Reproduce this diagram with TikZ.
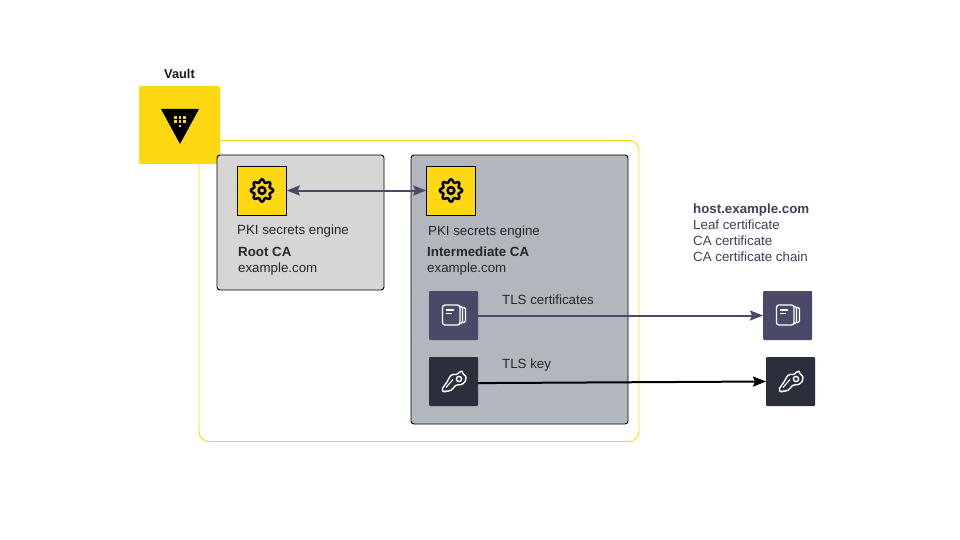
\documentclass[tikz,border=0pt]{standalone}
\usepackage{fontspec}
\setmainfont{Liberation Sans}
\usetikzlibrary{arrows.meta}
\definecolor{vaultyellow}{HTML}{FFD814}
\definecolor{certblue}{HTML}{4A4A68}
\definecolor{keydark}{HTML}{2C2F3B}
\definecolor{rootgray}{HTML}{D6D6D6}
\definecolor{intergray}{HTML}{B2B6BD}
\definecolor{hosttext}{HTML}{3F3F5C}
\tikzset{
  x=1pt,y=-1pt,
  lbl/.style={anchor=base west,inner sep=0pt,font=\fontsize{13.3}{15}\selectfont,text=black!85},
  lblb/.style={lbl,font=\fontsize{13.3}{15}\selectfont\bfseries},
  hostlbl/.style={lbl,text=hosttext},
  panel/.style={draw=black,line width=0.9pt,rounded corners=3pt,inner sep=0pt,outer sep=0pt,anchor=north west},
  enginebox/.style={draw=black,line width=0.7pt,fill=vaultyellow,minimum width=49.5pt,minimum height=49pt,inner sep=0pt,outer sep=0pt},
  iconbox/.style={rounded corners=1pt,minimum width=49pt,minimum height=49pt,inner sep=0pt,outer sep=0pt},
  certbox/.style={iconbox,fill=certblue},
  keybox/.style={iconbox,fill=keydark},
  conn/.style={line width=2pt,draw=certblue,-{Stealth[length=13pt,width=10pt,inset=2pt]}},
  keyconn/.style={line width=2pt,draw=black,-{Stealth[length=13pt,width=10pt,inset=2pt]}},
  pics/gear/.style={code={
    \draw[line width=2.5pt,black,line join=round] plot[domain=0:357,samples=120,smooth cycle] ({(9.7+1.5*cos(8*\x))*cos(\x)},{(9.7+1.5*cos(8*\x))*sin(\x)});
    \draw[line width=2.5pt,black] (0,0) circle[radius=3.4];
  }},
  pics/certicon/.style={code={
    \draw[white,line width=1.3pt,rounded corners=2.5pt] (-11,-10.5) rectangle (6.5,9.5);
    \draw[white,line width=1.3pt,rounded corners=1.5pt] (6.5,-9) -- (9,-9) -- (9,8) -- (6.5,8);
    \draw[white,line width=1.3pt,rounded corners=1.5pt] (9,-8) -- (12,-8) -- (12,7) -- (9,7);
    \draw[white,line width=1.4pt] (-8,-5.5) -- (0,-5.5) (-8,-2.2) -- (-2,-2.2);
  }},
  pics/keyicon/.style={code={
    \draw[white,line width=1.4pt,line join=round,rounded corners=1.5pt]
      (-11.8,8) -- (-5.5,-1) .. controls (-4,-5) and (-2,-7.2) .. (1,-7)
      .. controls (3,-7) and (5,-8) .. (7,-10.5) -- (9.8,-10.2)
      -- (8.5,-7.5) .. controls (11,-7) and (12.5,-5) .. (12.2,-3)
      .. controls (12,1) and (8,4) .. (3,3) -- (-3.5,10) -- (-5.5,8.5) -- (-7,10.8) -- (-8.8,9) -- (-10.2,10.8) -- cycle;
    \draw[white,line width=1.4pt] (5.5,-2.5) circle[radius=2.6];
    \draw[white,line width=1.1pt] (-7.5,6) -- (-0.5,-2);
  }},
}
\begin{document}
\begin{tikzpicture}
\useasboundingbox (0,0) rectangle (960,540);
\fill[white] (0,0) rectangle (960,540);
% outer frame
\node[draw=vaultyellow,line width=0.9pt,rounded corners=10pt,anchor=north west,minimum width=440pt,minimum height=301pt,inner sep=0pt,outer sep=0pt] (frame) at (199,140.5) {};
% vault
\node[fill=vaultyellow,rounded corners=1.5pt,minimum width=81pt,minimum height=78pt,inner sep=0pt] (vault) at (179.5,125) {};
\fill[black,rounded corners=0.5pt] (161,109) -- (199,109) -- (180,144) -- cycle;
\foreach \px/\py in {175.7/117.3,180/117.3,184.3/117.3,175.7/121.7,180/121.7,184.3/121.7,180/126}
  \fill[vaultyellow] (\px-1.45,\py-1.45) rectangle (\px+1.45,\py+1.45);
\node[lblb,anchor=base,text=black!90,font=\fontsize{12.8}{15}\selectfont\bfseries] (vaultlbl) at (179.5,79) {Vault};
% panels
\node[panel,fill=rootgray,minimum width=167pt,minimum height=135pt] (root) at (217,155) {};
\node[panel,fill=intergray,minimum width=217pt,minimum height=269pt] (inter) at (411,155) {};
% engines
\node[enginebox] (eng1) at (262,190.5) {};
\node[enginebox] (eng2) at (451,190.5) {};
\pic at (262,190.5) {gear};
\pic at (451,190.5) {gear};
% texts
\node[lbl] (t1) at (237,234.5) {PKI secrets engine};
\node[lblb] (t2) at (238,256) {Root CA};
\node[lbl] (t3) at (238,272) {example.com};
\node[lbl] (t4) at (428,235) {PKI secrets engine};
\node[lblb] (t5) at (427,256) {Intermediate CA};
\node[lbl] (t6) at (427,272) {example.com};
\node[lbl] (t7) at (502,304) {TLS certificates};
\node[lbl] (t8) at (502,368) {TLS key};
\node[lblb,text=hosttext] (h0) at (693,213) {host.example.com};
\node[hostlbl] (h1) at (693,229) {Leaf certificate};
\node[hostlbl] (h2) at (693,245) {CA certificate};
\node[hostlbl] (h3) at (693,261) {CA certificate chain};
% icon boxes
\node[certbox] (cert1) at (453.5,315.5) {};
\node[keybox] (key1) at (453.5,381.5) {};
\node[certbox] (cert2) at (787.5,315.5) {};
\node[keybox] (key2) at (790.5,381.5) {};
\pic at (453.5,315.5) {certicon};
\pic at (787.5,315.5) {certicon};
\pic at (453.5,381.5) {keyicon};
\pic at (790.5,381.5) {keyicon};
% connectors
\draw[conn,{Stealth[length=13pt,width=10pt,inset=2pt]}-{Stealth[length=13pt,width=10pt,inset=2pt]}] (eng1) -- (eng2);
\draw[conn] (cert1) -- (cert2);
\draw[keyconn] ([yshift=-1.6pt]key1.east) -- (key2.west);
\end{tikzpicture}
\end{document}
